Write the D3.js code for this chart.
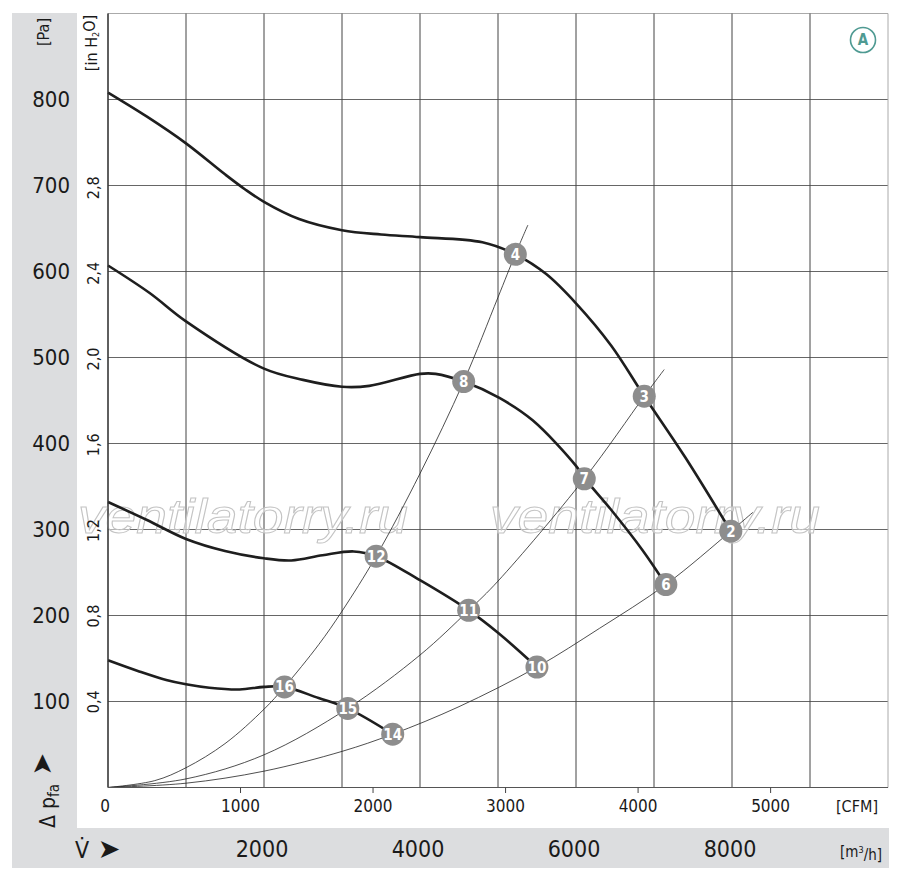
<!DOCTYPE html>
<html>
<head>
<meta charset="utf-8">
<script src="https://cdn.jsdelivr.net/npm/d3@7"></script>
<style>
  body { margin: 0; background: #fff; }
  svg { display: block; font-family: 'Liberation Sans Narrow', 'DejaVu Sans Condensed', 'Roboto', sans-serif; }
</style>
</head>
<body>
<div id="graphics"></div>
<script>
// fan curves, [m3/h, Pa]
const curve1 = [[0, 808], [500, 780], [1000, 749], [1500, 713], [1750, 696], [2000, 681], [2450, 661], [3000, 648], [3500, 643], [4000, 640], [4800, 634], [5222, 620], [5618, 597], [6000, 563], [6450, 514], [6875, 455], [7400, 384], [7985, 298]];
const curve2 = [[0, 607], [534, 575], [1000, 542], [2000, 487], [2500, 474], [3000, 466], [3350, 467], [4000, 481], [4200, 481], [4560, 472], [5018, 453], [5444, 427], [6000, 374], [6106, 360], [6450, 323], [6853, 276], [7152, 236]];
const curve3 = [[0, 332], [500, 311], [1000, 289], [1500, 275], [2000, 266.5], [2350, 264], [2750, 270], [3150, 274.5], [3438, 269], [4000, 241], [4624, 206], [5000, 180], [5499, 140]];
const curve4 = [[0, 148], [400, 135], [747, 125], [1000, 120], [1300, 116], [1687, 114], [2000, 117], [2263, 117], [2700, 104], [3074, 92], [3650, 62]];

// system curves (thin)
const sysA = [[0, 0], [600, 8], [1000, 23], [1500, 51], [2000, 91], [2263, 117], [2700, 166], [3000, 205], [3438, 269], [4000, 365], [4560, 472], [5000, 570], [5222, 620], [5383, 654]];
const sysB = [[0, 0], [1000, 10], [2000, 38], [3074, 92], [4000, 154], [4624, 206], [5000, 240], [6106, 359], [6875, 455], [7131, 486]];
const sysC = [[0, 0], [1000, 5], [2000, 19], [3000, 42], [3650, 62], [4500, 94], [5499, 140], [6300, 185], [7152, 236], [7985, 298], [8268, 320]];

// operating points: [label, m3/h, Pa]
const markers = [[4, 5222, 620], [3, 6875, 455], [2, 7985, 298], [8, 4560, 472], [7, 6106, 359], [6, 7152, 236], [12, 3438, 269], [11, 4624, 206], [10, 5499, 140], [16, 2263, 117], [15, 3074, 92], [14, 3650, 62]];

// ticks
const paTicks = [100, 200, 300, 400, 500, 600, 700, 800];
const inH2OTicks = [0.4, 0.8, 1.2, 1.6, 2.0, 2.4, 2.8];
const cfmTicks = [0, 1000, 2000, 3000, 4000, 5000];
const m3hTicks = [2000, 4000, 6000, 8000];
const gridX = d3.range(0, 10001, 1000);
const gridY = d3.range(0, 901, 100);

const PA_PER_INH2O = 249.09;
const M3H_PER_CFM = 1.699;

const svg = d3
	.select('#graphics')
	.append('svg')
	.attr('width', 900)
	.attr('height', 880);

// Scales
const xPositionScale = d3.scaleLinear().domain([0, 10000]).range([108, 888]);
const yPositionScale = d3.scaleLinear().domain([0, 900]).range([787.5, 13.5]);
const xCfmScale = d3.scaleLinear().domain([0, 10000 / M3H_PER_CFM]).range([108, 888]);

// grey panels
svg.append('rect').attr('x', 12).attr('y', 13).attr('width', 65).attr('height', 816).attr('fill', '#dcdddf');
svg.append('rect').attr('x', 12).attr('y', 828).attr('width', 877).attr('height', 40).attr('fill', '#dcdddf');

// grid
svg.append('g')
	.selectAll('line')
	.data(gridY)
	.join('line')
	.attr('x1', xPositionScale(0))
	.attr('x2', xPositionScale(10000))
	.attr('y1', (d) => yPositionScale(d))
	.attr('y2', (d) => yPositionScale(d))
	.attr('stroke', (d) => (d === 900 ? '#aaa' : '#666'))
	.attr('stroke-width', 1.1);

svg.append('g')
	.selectAll('line')
	.data(gridX)
	.join('line')
	.attr('x1', (d) => xPositionScale(d))
	.attr('x2', (d) => xPositionScale(d))
	.attr('y1', yPositionScale(0))
	.attr('y2', yPositionScale(900))
	.attr('stroke', (d) => (d === 10000 ? '#aaa' : '#444'))
	.attr('stroke-width', 1);

// watermark
['ventilatorry.ru', 'ventilatorry.ru'].forEach((t, i) => {
	svg.append('text')
		.text(t)
		.attr('x', i === 0 ? 78 : 490)
		.attr('y', 533)
		.attr('textLength', 330)
		.attr('lengthAdjust', 'spacingAndGlyphs')
		.attr('font-family', 'Liberation Sans, Arial, sans-serif')
		.attr('font-style', 'italic')
		.attr('font-size', 48)
		.attr('fill', 'rgba(255,255,255,0.5)')
		.attr('stroke', '#c4c4c4')
		.attr('stroke-width', 1);
});

// system curves
const line = d3
	.line()
	.x((d) => xPositionScale(d[0]))
	.y((d) => yPositionScale(d[1]))
	.curve(d3.curveCatmullRom.alpha(0.5));

[sysA, sysB, sysC].forEach((s) => {
	svg.append('path').datum(s).attr('d', line)
		.attr('fill', 'none').attr('stroke', '#222').attr('stroke-width', 0.8);
});

// fan curves
[curve1, curve2, curve3, curve4].forEach((c) => {
	svg.append('path').datum(c).attr('d', line)
		.attr('fill', 'none').attr('stroke', '#1e1e1e').attr('stroke-width', 2.6)
		.attr('stroke-linejoin', 'round');
});

// operating points
const mk = svg.append('g')
	.selectAll('g')
	.data(markers)
	.join('g')
	.attr('transform', (d) => 'translate(' + xPositionScale(d[1]) + ',' + yPositionScale(d[2]) + ')');
mk.append('circle').attr('r', 11.5).attr('fill', '#8d8d8d');
mk.append('text')
	.text((d) => d[0])
	.attr('text-anchor', 'middle')
	.attr('dy', '0.36em')
	.attr('font-size', 15)
	.attr('font-weight', 'bold')
	.attr('fill', '#fff');

// plot frame: left and bottom
svg.append('line').attr('x1', 108).attr('x2', 108).attr('y1', 13.5).attr('y2', 787.5).attr('stroke', '#333').attr('stroke-width', 1.2);
svg.append('line').attr('x1', 108).attr('x2', 888).attr('y1', 787.5).attr('y2', 787.5).attr('stroke', '#555').attr('stroke-width', 1.2);

// Pa labels
svg.append('g')
	.selectAll('text')
	.data(paTicks)
	.join('text')
	.text((d) => d)
	.attr('x', 70)
	.attr('y', (d) => yPositionScale(d))
	.attr('dy', '0.36em')
	.attr('text-anchor', 'end')
	.attr('font-size', 22)
	.attr('fill', '#1a1a1a');

// in H2O labels (rotated)
svg.append('g')
	.selectAll('text')
	.data(inH2OTicks)
	.join('text')
	.text((d) => d3.format('.1f')(d).replace('.', ','))
	.attr('transform', (d) => 'translate(93,' + yPositionScale(d * PA_PER_INH2O) + ') rotate(-90)')
	.attr('dy', '0.36em')
	.attr('text-anchor', 'middle')
	.attr('font-size', 16)
	.attr('fill', '#1a1a1a');

// unit labels on the left
svg.append('text')
	.text('[Pa]')
	.attr('transform', 'translate(43,32) rotate(-90)')
	.attr('dy', '0.36em')
	.attr('text-anchor', 'middle')
	.attr('font-size', 16)
	.attr('fill', '#1a1a1a');

const h2o = svg.append('text')
	.attr('transform', 'translate(91,43) rotate(-90)')
	.attr('dy', '0.36em')
	.attr('text-anchor', 'middle')
	.attr('font-size', 16)
	.attr('fill', '#1a1a1a');
h2o.append('tspan').text('[in H');
h2o.append('tspan').text('2').attr('font-size', 9).attr('dy', '0.3em');
h2o.append('tspan').text('O]').attr('dy', '-0.3em');

// delta p label
const dp = svg.append('text')
	.attr('transform', 'translate(47,828) rotate(-90)')
	.attr('dy', '0.36em')
	.attr('font-size', 21)
	.attr('fill', '#1a1a1a');
dp.append('tspan').text('\u0394 p');
dp.append('tspan').text('fa').attr('font-size', 15).attr('dy', '0.3em');
dp.append('tspan').text(' \u27A4').attr('dy', '-0.3em').attr('font-family', 'DejaVu Sans').attr('font-size', 27);

// CFM axis
svg.append('g')
	.selectAll('line')
	.data(cfmTicks.slice(1))
	.join('line')
	.attr('x1', (d) => xCfmScale(d))
	.attr('x2', (d) => xCfmScale(d))
	.attr('y1', 787.5)
	.attr('y2', 793)
	.attr('stroke', '#444');

svg.append('g')
	.selectAll('text')
	.data(cfmTicks)
	.join('text')
	.text((d) => d)
	.attr('x', (d) => xCfmScale(d) - (d === 0 ? 3 : 0))
	.attr('y', 812)
	.attr('text-anchor', 'middle')
	.attr('font-size', 17)
	.attr('fill', '#1a1a1a');

svg.append('text')
	.text('[CFM]')
	.attr('x', 878)
	.attr('y', 812)
	.attr('text-anchor', 'end')
	.attr('font-size', 16)
	.attr('fill', '#1a1a1a');

// m3/h axis in the grey band
svg.append('g')
	.selectAll('text')
	.data(m3hTicks)
	.join('text')
	.text((d) => d)
	.attr('x', (d) => xPositionScale(d) - 2)
	.attr('y', 857)
	.attr('text-anchor', 'middle')
	.attr('font-size', 23)
	.attr('fill', '#1a1a1a');

const m3 = svg.append('text')
	.attr('x', 882)
	.attr('y', 857)
	.attr('text-anchor', 'end')
	.attr('font-size', 15)
	.attr('fill', '#1a1a1a');
m3.append('tspan').text('[m');
m3.append('tspan').text('3').attr('font-size', 9).attr('dy', '-0.5em');
m3.append('tspan').text('/h]').attr('dy', '0.5em');

const vd = svg.append('text')
	.attr('x', 75)
	.attr('y', 858)
	.attr('font-size', 23)
	.attr('fill', '#1a1a1a');
vd.append('tspan').text('V\u0307');
vd.append('tspan').text(' \u27A4').attr('font-family', 'DejaVu Sans').attr('font-size', 27);

// "A" badge
svg.append('circle').attr('cx', 863).attr('cy', 40).attr('r', 12.5)
	.attr('fill', '#fff').attr('stroke', '#4f9a92').attr('stroke-width', 1.6);
svg.append('text').text('A')
	.attr('x', 863).attr('y', 40).attr('dy', '0.36em')
	.attr('text-anchor', 'middle')
	.attr('font-size', 15).attr('font-weight', 'bold')
	.attr('fill', '#4f9a92');
</script>
</body>
</html>
